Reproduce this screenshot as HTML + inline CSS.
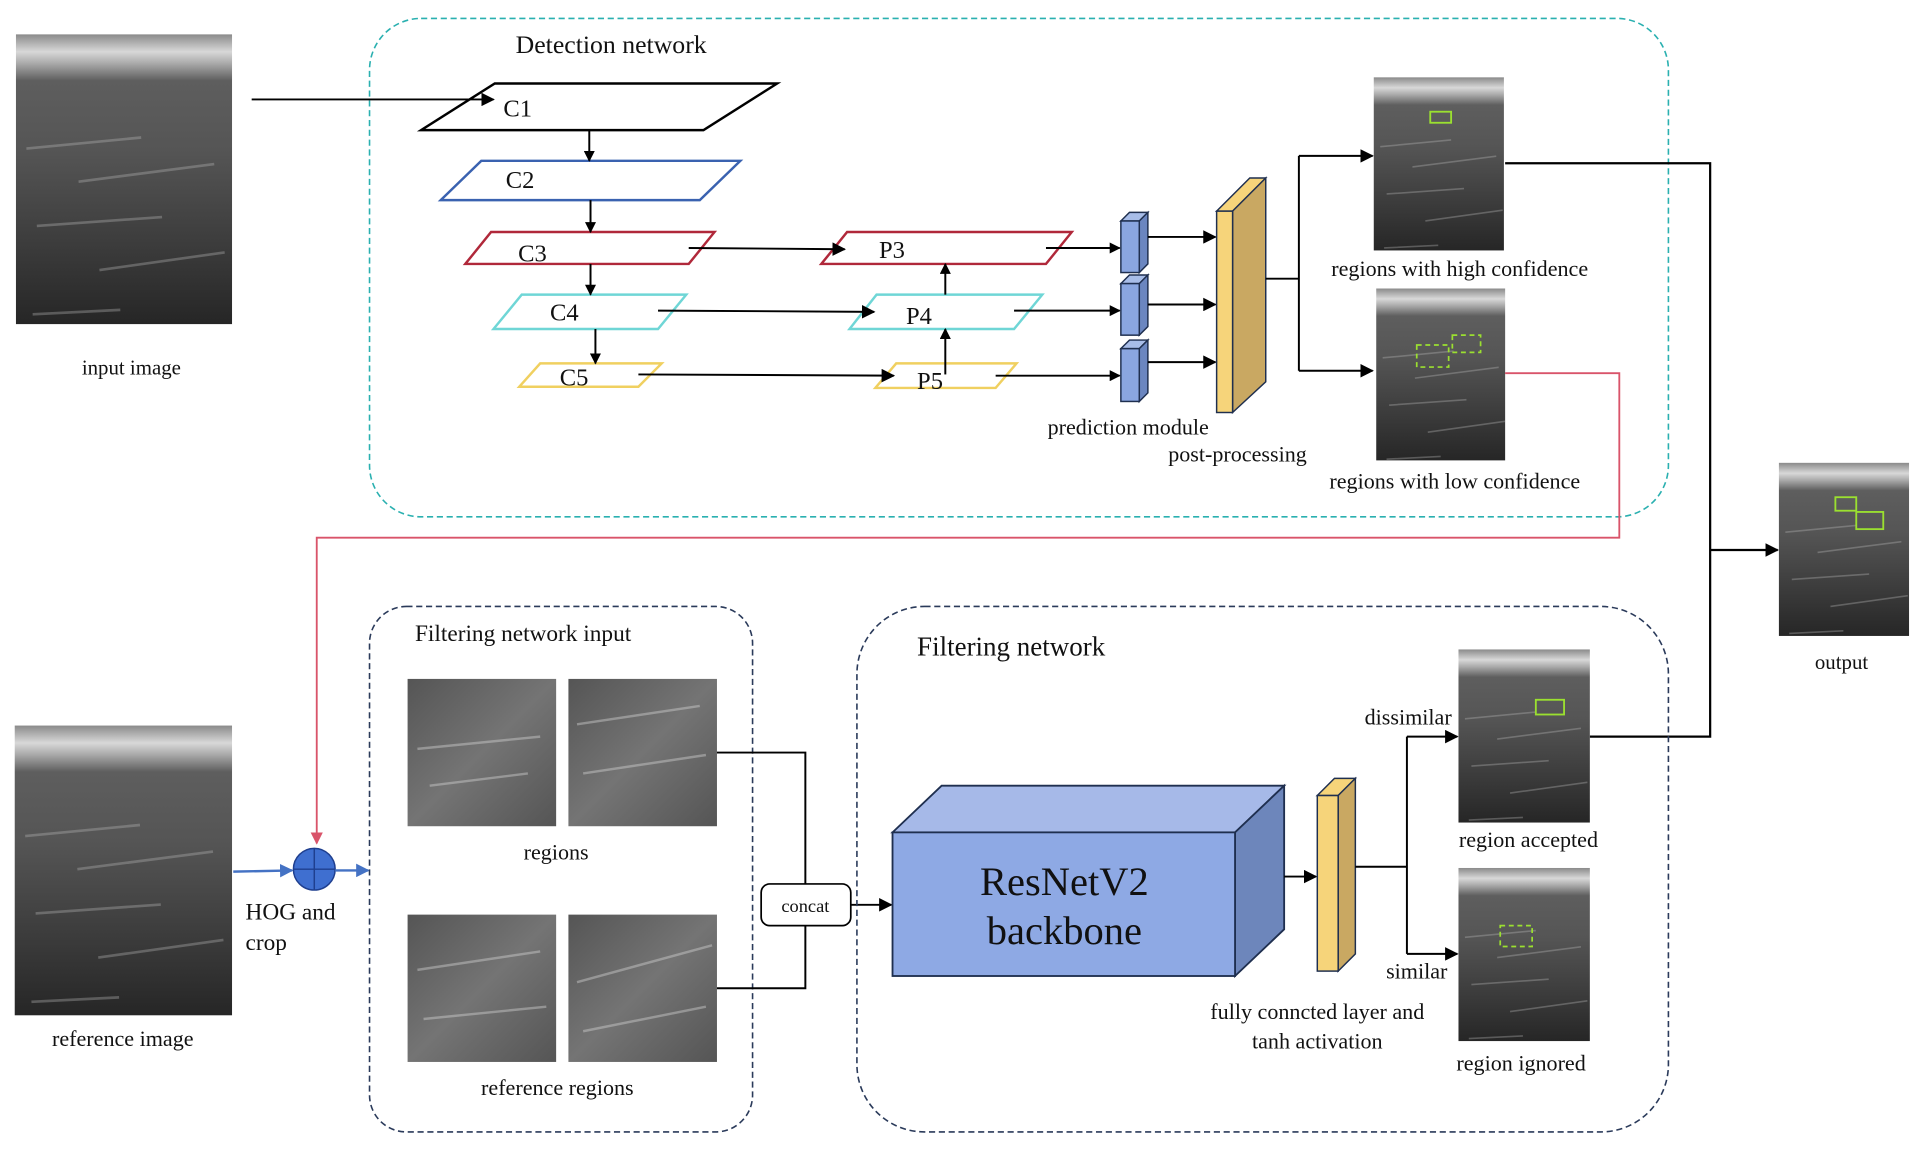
<!DOCTYPE html>
<html><head><meta charset="utf-8"><style>
html,body{margin:0;padding:0;background:#fff;}
svg{display:block;}
text{font-family:"Liberation Serif",serif;fill:#111;}
</style></head><body>
<svg width="1925" height="1162" viewBox="0 0 1568 946.5" preserveAspectRatio="none" xmlns="http://www.w3.org/2000/svg">
<defs>
<marker id="ah" viewBox="0 0 10 10" refX="9" refY="5" markerWidth="9" markerHeight="9" orient="auto" markerUnits="userSpaceOnUse"><path d="M0,0L10,5L0,10z" fill="#000"/></marker>
<marker id="ah2" viewBox="0 0 10 10" refX="9" refY="5" markerWidth="11" markerHeight="11" orient="auto" markerUnits="userSpaceOnUse"><path d="M0,0L10,5L0,10z" fill="#000"/></marker>
<marker id="ar" viewBox="0 0 10 10" refX="9" refY="5" markerWidth="10" markerHeight="10" orient="auto" markerUnits="userSpaceOnUse"><path d="M0,0L10,5L0,10z" fill="#d9546a"/></marker>
<marker id="ab" viewBox="0 0 10 10" refX="9" refY="5" markerWidth="11" markerHeight="11" orient="auto" markerUnits="userSpaceOnUse"><path d="M0,0L10,5L0,10z" fill="#4472c4"/></marker>
<linearGradient id="us" x1="0" y1="0" x2="0" y2="1">
<stop offset="0" stop-color="#8a8a8a"/><stop offset="0.06" stop-color="#d8d8d8"/><stop offset="0.1" stop-color="#aaa"/><stop offset="0.16" stop-color="#5e5e5e"/><stop offset="0.4" stop-color="#555"/><stop offset="0.7" stop-color="#3e3e3e"/><stop offset="1" stop-color="#262626"/>
</linearGradient>
<linearGradient id="crop" x1="0" y1="0" x2="1" y2="1">
<stop offset="0" stop-color="#555"/><stop offset="0.5" stop-color="#747474"/><stop offset="1" stop-color="#555"/>
</linearGradient>
<g id="streaks" stroke="#bbb" stroke-width="1.2" opacity="0.35" fill="none">
<path d="M5,45 L60,40 M30,60 L95,52 M10,80 L70,76 M40,100 L100,92 M8,120 L50,118"/>
</g>
</defs>

<rect x="301" y="15" width="1058" height="406" rx="42" fill="none" stroke="#2ab0b0" stroke-width="1.3" stroke-dasharray="5,3"/>
<text x="420" y="43" font-size="21">Detection network</text>

<rect x="13" y="28" width="176" height="236" fill="url(#us)"/>
<g transform="translate(13,40) scale(1.7,1.8)"><use href="#streaks"/></g>
<text x="107" y="305" font-size="17" text-anchor="middle">input image</text>
<line x1="205" y1="81" x2="402" y2="81" stroke="#000" stroke-width="1.6" marker-end="url(#ah2)"/>

<polygon points="343,106 403,68 633,68 573,106" fill="none" stroke="#000" stroke-width="2"/>
<text x="410" y="95" font-size="20">C1</text>
<polygon points="359,163 392,131 603,131 570,163" fill="none" stroke="#3a62b0" stroke-width="2"/>
<text x="412" y="153" font-size="20">C2</text>
<polygon points="379,215 400,189 582,189 561,215" fill="none" stroke="#b0283a" stroke-width="2"/>
<text x="422" y="213" font-size="20">C3</text>
<polygon points="402,268 425,240 559,240 536,268" fill="none" stroke="#6fd6d6" stroke-width="2"/>
<text x="448" y="261" font-size="20">C4</text>
<polygon points="423,315 440,296 539,296 520,315" fill="none" stroke="#f0d060" stroke-width="2"/>
<text x="456" y="314" font-size="20">C5</text>
<g stroke="#000" stroke-width="1.6">
<line x1="480" y1="106" x2="480" y2="131" marker-end="url(#ah)"/>
<line x1="481" y1="163" x2="481" y2="189" marker-end="url(#ah)"/>
<line x1="481" y1="215" x2="481" y2="240" marker-end="url(#ah)"/>
<line x1="485" y1="268" x2="485" y2="296" marker-end="url(#ah)"/>
</g>
<polygon points="669,215 690,189 873,189 852,215" fill="none" stroke="#b0283a" stroke-width="2"/>
<text x="716" y="210" font-size="20">P3</text>
<polygon points="692,268 714,240 849,240 826,268" fill="none" stroke="#6fd6d6" stroke-width="2"/>
<text x="738" y="264" font-size="20">P4</text>
<polygon points="713,316 730,296 828,296 811,316" fill="none" stroke="#f0d060" stroke-width="2"/>
<text x="747" y="317" font-size="20">P5</text>
<g stroke="#000" stroke-width="1.6">
<line x1="561" y1="202" x2="688" y2="203" marker-end="url(#ah2)"/>
<line x1="536" y1="253" x2="712" y2="254" marker-end="url(#ah2)"/>
<line x1="520" y1="305" x2="728" y2="306" marker-end="url(#ah2)"/>
<line x1="770" y1="305" x2="770" y2="268" marker-end="url(#ah)"/>
<line x1="770" y1="240" x2="770" y2="215" marker-end="url(#ah)"/>
<line x1="852" y1="202" x2="912" y2="202" marker-end="url(#ah)"/>
<line x1="826" y1="253" x2="912" y2="253" marker-end="url(#ah)"/>
<line x1="811" y1="306" x2="912" y2="306" marker-end="url(#ah)"/>
</g>
<g stroke="#1f2f4f" stroke-width="1.2">
<g><polygon points="913,180 920,173 935,173 928,180" fill="#a8bde8"/><polygon points="928,180 935,173 935,215 928,222" fill="#6b86c0"/><rect x="913" y="180" width="15" height="42" fill="#8aa6e0"/></g>
<g><polygon points="913,231 920,224 935,224 928,231" fill="#a8bde8"/><polygon points="928,231 935,224 935,266 928,273" fill="#6b86c0"/><rect x="913" y="231" width="15" height="42" fill="#8aa6e0"/></g>
<g><polygon points="913,284 920,277 935,277 928,284" fill="#a8bde8"/><polygon points="928,284 935,277 935,320 928,327" fill="#6b86c0"/><rect x="913" y="284" width="15" height="43" fill="#8aa6e0"/></g>
</g>
<g stroke="#000" stroke-width="1.6">
<line x1="935" y1="193" x2="990" y2="193" marker-end="url(#ah2)"/>
<line x1="935" y1="248" x2="990" y2="248" marker-end="url(#ah2)"/>
<line x1="935" y1="295" x2="990" y2="295" marker-end="url(#ah2)"/>
</g>
<g stroke="#1f2f4f" stroke-width="1.2">
<polygon points="991,172 1018,145 1031,145 1004,172" fill="#f6d47a"/>
<polygon points="1004,172 1031,145 1031,311 1004,336" fill="#c9a862"/>
<rect x="991" y="172" width="13" height="164" fill="#f6d47a"/>
</g>
<text x="919" y="354" font-size="18" text-anchor="middle">prediction module</text>
<text x="1008" y="376" font-size="18" text-anchor="middle">post-processing</text>
<g stroke="#000" stroke-width="1.6" fill="none">
<polyline points="1031,227 1058,227"/>
<polyline points="1058,302 1058,127"/>
<line x1="1058" y1="127" x2="1118" y2="127" marker-end="url(#ah2)"/>
<line x1="1058" y1="302" x2="1118" y2="302" marker-end="url(#ah2)"/>
</g>
<rect x="1119" y="63" width="106" height="141" fill="url(#us)"/>
<g transform="translate(1119,70) scale(1.05,1.1)"><use href="#streaks"/></g>
<rect x="1165" y="91" width="17" height="9" fill="none" stroke="#9be030" stroke-width="1.5"/>
<text x="1189" y="225" font-size="18" text-anchor="middle">regions with high confidence</text>
<rect x="1121" y="235" width="105" height="140" fill="url(#us)"/>
<g transform="translate(1121,242) scale(1.05,1.1)"><use href="#streaks"/></g>
<rect x="1154" y="281" width="26" height="18" fill="none" stroke="#9be030" stroke-width="1.4" stroke-dasharray="4,3"/>
<rect x="1183" y="273" width="23" height="14" fill="none" stroke="#9be030" stroke-width="1.4" stroke-dasharray="4,3"/>
<text x="1185" y="398" font-size="18" text-anchor="middle">regions with low confidence</text>

<g stroke="#000" stroke-width="1.8" fill="none">
<polyline points="1226,133 1393,133 1393,600 1295,600"/>
<line x1="1393" y1="448" x2="1448" y2="448" marker-end="url(#ah2)"/>
</g>
<rect x="1449" y="377" width="106" height="141" fill="url(#us)"/>
<g transform="translate(1449,384) scale(1.05,1.1)"><use href="#streaks"/></g>
<rect x="1495" y="405" width="17" height="11" fill="none" stroke="#9be030" stroke-width="1.5"/>
<rect x="1512" y="417" width="22" height="14" fill="none" stroke="#9be030" stroke-width="1.5"/>
<text x="1500" y="545" font-size="17" text-anchor="middle">output</text>

<polyline points="1226,304 1319,304 1319,438 258,438 258,687" fill="none" stroke="#d9546a" stroke-width="1.5" marker-end="url(#ar)"/>

<rect x="12" y="591" width="177" height="236" fill="url(#us)"/>
<g transform="translate(12,600) scale(1.7,1.8)"><use href="#streaks"/></g>
<text x="100" y="852" font-size="18" text-anchor="middle">reference image</text>
<line x1="190" y1="710" x2="238" y2="709" stroke="#4472c4" stroke-width="2" marker-end="url(#ab)"/>
<circle cx="256" cy="708" r="17" fill="#3f6fd0" stroke="#1f3f8f" stroke-width="1.2"/>
<line x1="239" y1="708" x2="273" y2="708" stroke="#1f3f8f" stroke-width="1.2"/>
<line x1="256" y1="691" x2="256" y2="725" stroke="#1f3f8f" stroke-width="1.2"/>
<line x1="273" y1="709" x2="300" y2="709" stroke="#4472c4" stroke-width="2" marker-end="url(#ab)"/>
<text x="200" y="749" font-size="19">HOG and</text>
<text x="200" y="774" font-size="19">crop</text>

<rect x="301" y="494" width="312" height="428" rx="30" fill="none" stroke="#2a3a5a" stroke-width="1.3" stroke-dasharray="5,3"/>
<text x="338" y="522" font-size="19">Filtering network input</text>
<rect x="332" y="553" width="121" height="120" fill="url(#crop)"/>
<rect x="463" y="553" width="121" height="120" fill="url(#crop)"/>
<rect x="332" y="745" width="121" height="120" fill="url(#crop)"/>
<rect x="463" y="745" width="121" height="120" fill="url(#crop)"/>
<g stroke="#ddd" stroke-width="2" opacity="0.4" fill="none">
<path d="M340,610 L440,600 M350,640 L430,630 M470,590 L570,575 M475,630 L575,615 M340,790 L440,775 M345,830 L445,820 M470,800 L580,770 M475,840 L575,820"/>
</g>
<text x="453" y="700" font-size="18" text-anchor="middle">regions</text>
<text x="454" y="892" font-size="18" text-anchor="middle">reference regions</text>
<polyline points="584,613 656,613 656,805 584,805" fill="none" stroke="#000" stroke-width="1.6"/>
<rect x="620" y="720" width="73" height="34" rx="7" fill="#fff" stroke="#000" stroke-width="1.4"/>
<text x="656" y="743" font-size="15" text-anchor="middle">concat</text>
<line x1="693" y1="737" x2="726" y2="737" stroke="#000" stroke-width="1.6" marker-end="url(#ah2)"/>

<rect x="698" y="494" width="661" height="428" rx="55" fill="none" stroke="#2a3a5a" stroke-width="1.3" stroke-dasharray="5,3"/>
<text x="747" y="534" font-size="22">Filtering network</text>
<g stroke="#1f2f4f" stroke-width="1.5">
<polygon points="727,678 767,640 1046,640 1006,678" fill="#a6b9e8"/>
<polygon points="1006,678 1046,640 1046,757 1006,795" fill="#6d86bb"/>
<rect x="727" y="678" width="279" height="117" fill="#8ea9e4"/>
</g>
<text x="867" y="729" font-size="33" text-anchor="middle">ResNetV2</text>
<text x="867" y="769" font-size="33" text-anchor="middle">backbone</text>
<line x1="1046" y1="714" x2="1072" y2="714" stroke="#000" stroke-width="1.6" marker-end="url(#ah2)"/>
<g stroke="#1f2f4f" stroke-width="1.2">
<polygon points="1073,648 1087,634 1104,634 1090,648" fill="#f6d47a"/>
<polygon points="1090,648 1104,634 1104,777 1090,791" fill="#c9a862"/>
<rect x="1073" y="648" width="17" height="143" fill="#f6d47a"/>
</g>
<g stroke="#000" stroke-width="1.6" fill="none">
<polyline points="1104,706 1146,706"/>
<polyline points="1146,600 1146,777"/>
<line x1="1146" y1="600" x2="1187" y2="600" marker-end="url(#ah2)"/>
<line x1="1146" y1="777" x2="1187" y2="777" marker-end="url(#ah2)"/>
</g>
<text x="1147" y="590" font-size="18" text-anchor="middle">dissimilar</text>
<text x="1154" y="797" font-size="18" text-anchor="middle">similar</text>
<rect x="1188" y="529" width="107" height="141" fill="url(#us)"/>
<g transform="translate(1188,536) scale(1.05,1.1)"><use href="#streaks"/></g>
<rect x="1251" y="570" width="23" height="12" fill="none" stroke="#9be030" stroke-width="1.5"/>
<text x="1245" y="690" font-size="18" text-anchor="middle">region accepted</text>
<rect x="1188" y="707" width="107" height="141" fill="url(#us)"/>
<g transform="translate(1188,714) scale(1.05,1.1)"><use href="#streaks"/></g>
<rect x="1222" y="754" width="26" height="17" fill="none" stroke="#9be030" stroke-width="1.4" stroke-dasharray="4,3"/>
<text x="1239" y="872" font-size="18" text-anchor="middle">region ignored</text>
<text x="1073" y="830" font-size="18" text-anchor="middle">fully conncted layer and</text>
<text x="1073" y="854" font-size="18" text-anchor="middle">tanh activation</text>
</svg>
</body></html>
